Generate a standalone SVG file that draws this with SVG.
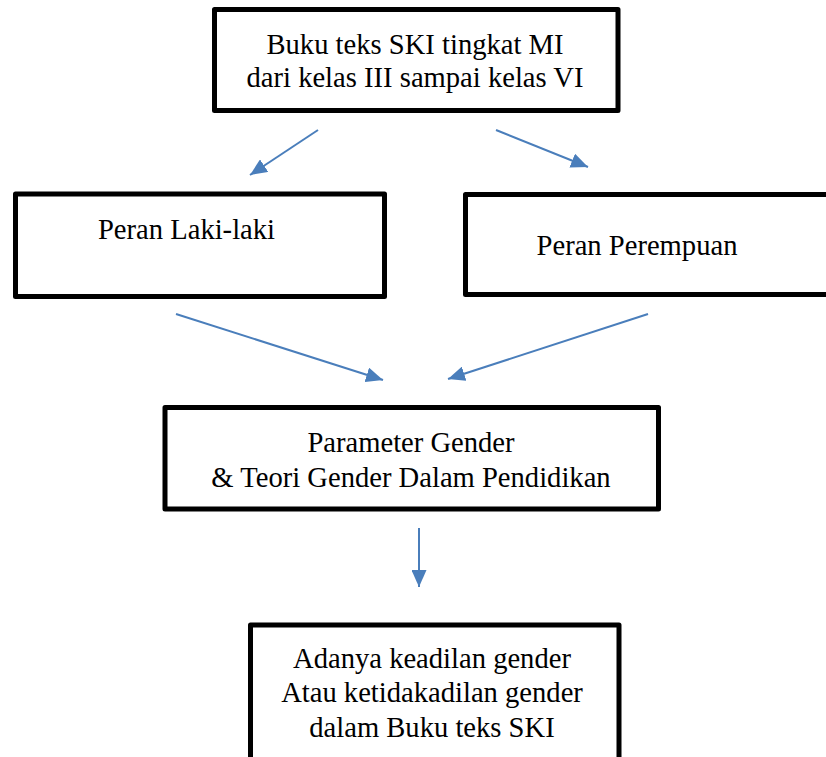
<svg xmlns="http://www.w3.org/2000/svg" width="826" height="757" viewBox="0 0 826 757">
<style>
.box{fill:#fff;stroke:#000;stroke-width:5;stroke-linejoin:round}
.t{font-family:'Liberation Serif','Times New Roman',serif;font-size:28.6px;fill:#000;text-anchor:middle}
.c{stroke:#4a7ebb;stroke-width:2;fill:none}
</style>
<defs>
<marker id="ah" markerUnits="userSpaceOnUse" markerWidth="19" markerHeight="15" refX="17" refY="7.5" orient="auto">
<path d="M0,0 L17,7.5 L0,15 Z" fill="#4a7ebb"/>
</marker>
</defs>
<g id="connectors">
<line class="c" x1="318" y1="130" x2="250" y2="175" marker-end="url(#ah)"/>
<line class="c" x1="496" y1="130" x2="588" y2="167" marker-end="url(#ah)"/>
<line class="c" x1="176" y1="314" x2="383" y2="380" marker-end="url(#ah)"/>
<line class="c" x1="648" y1="314" x2="448" y2="379" marker-end="url(#ah)"/>
<line class="c" x1="419" y1="528" x2="419" y2="587" marker-end="url(#ah)"/>
</g>
<g id="n1">
<rect class="box" x="214.5" y="9.5" width="403.5" height="101"/>
<text class="t" x="415" y="54">Buku teks SKI tingkat MI</text>
<text class="t" x="415" y="87">dari kelas III sampai kelas VI</text>
</g>
<g id="n2">
<rect class="box" x="15.5" y="194" width="369" height="102.5"/>
<text class="t" x="186.5" y="239">Peran Laki-laki</text>
</g>
<g id="n3">
<rect class="box" x="465.5" y="194.5" width="370" height="100"/>
<text class="t" x="637" y="255">Peran Perempuan</text>
</g>
<g id="n4">
<rect class="box" x="165" y="407.5" width="493.5" height="101.5"/>
<text class="t" x="411" y="452">Parameter Gender</text>
<text class="t" x="411" y="487">&amp; Teori Gender Dalam Pendidikan</text>
</g>
<g id="n5">
<rect class="box" x="250.5" y="625" width="368.5" height="150"/>
<text class="t" x="432" y="668">Adanya keadilan gender</text>
<text class="t" x="432" y="702">Atau ketidakadilan gender</text>
<text class="t" x="432" y="737">dalam Buku teks SKI</text>
</g>
</svg>
